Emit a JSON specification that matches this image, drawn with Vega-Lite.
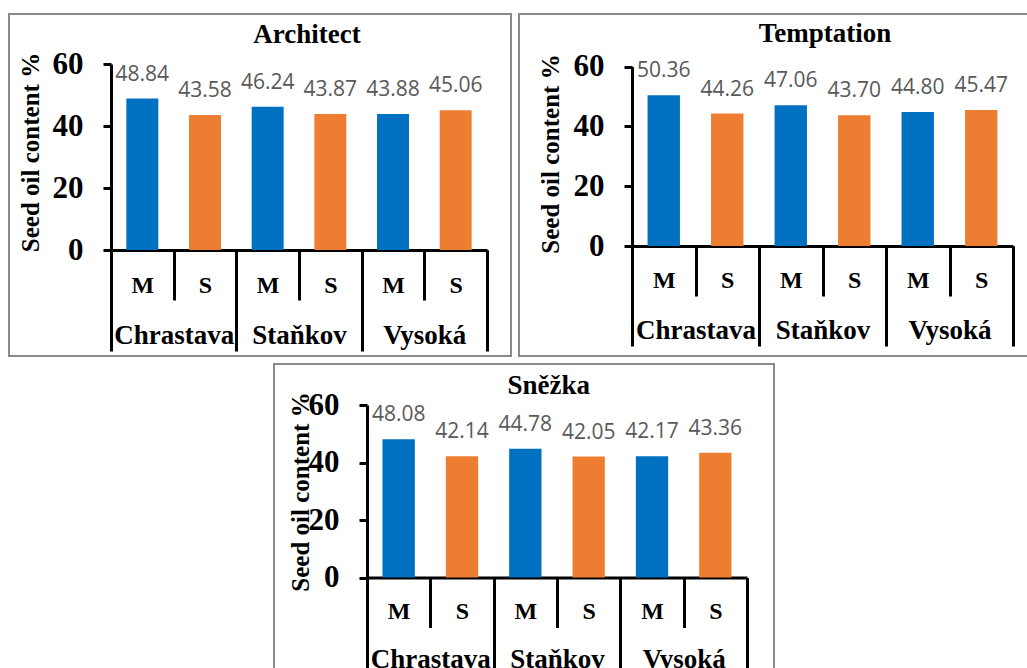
{
  "$schema": "https://vega.github.io/schema/vega-lite/v6.json",
  "padding": {"left": 8, "top": 13, "right": 0, "bottom": 0},
  "autosize": {"type": "pad"},
  "background": "white",
  "spacing": 6,
  "config": {
    "view": {"stroke": "#8a8a8a", "strokeWidth": 2},
    "axis": {"grid": false},
    "font": "Liberation Serif"
  },
  "vconcat": [
    {
      "spacing": 6,
      "hconcat": [
        {
          "width": 502,
          "height": 342,
          "title": {"text": "Architect", "dx": 47, "offset": -56, "baseline": "alphabetic", "fontSize": 27, "font": "Liberation Serif", "fontWeight": "bold", "color": "black"},
          "data": {"values": [
            {"location": "Chrastava", "treatment": "M", "group": "Chrastava-M", "oil": 48.84},
            {"location": "Chrastava", "treatment": "S", "group": "Chrastava-S", "oil": 43.58},
            {"location": "Staňkov", "treatment": "M", "group": "Staňkov-M", "oil": 46.24},
            {"location": "Staňkov", "treatment": "S", "group": "Staňkov-S", "oil": 43.87},
            {"location": "Vysoká", "treatment": "M", "group": "Vysoká-M", "oil": 43.88},
            {"location": "Vysoká", "treatment": "S", "group": "Vysoká-S", "oil": 45.06}
          ]},
          "layer": [
            {
              "mark": {"type": "bar", "width": {"band": 0.51}},
              "encoding": {
                "x": {"field": "group", "type": "nominal", "sort": null,
                  "scale": {"range": [102, 478], "paddingInner": 0, "paddingOuter": 0},
                  "axis": {"orient": "bottom", "offset": -106, "title": null, "domainColor": "black", "domainWidth": 3, "tickBand": "extent", "tickColor": "black", "tickWidth": 3, "tickSize": 50, "labelExpr": "split(datum.label,'-')[1]", "labelAngle": 0, "labelFont": "Liberation Serif", "labelFontWeight": "bold", "labelFontSize": 24, "labelColor": "black", "labelBaseline": "middle", "labelPadding": -15, "labelOverlap": false, "labelBound": false, "labelFlush": false}},
                "y": {"field": "oil", "type": "quantitative",
                  "scale": {"domain": [0, 60], "range": [236, 50], "nice": false},
                  "axis": {"orient": "left", "offset": -102, "values": [0, 20, 40, 60], "domainColor": "black", "domainWidth": 3, "tickColor": "black", "tickWidth": 3, "tickSize": 8, "labelFont": "Liberation Serif", "labelFontWeight": "bold", "labelFontSize": 31, "labelColor": "black", "labelPadding": 20, "title": "Seed oil content %", "titleFont": "Liberation Serif", "titleFontWeight": "bold", "titleFontSize": 25, "titleColor": "black", "titleX": -81, "titleY": 138, "titleAngle": -90, "titleAlign": "center", "titleBaseline": "middle"}},
                "color": {"field": "treatment", "type": "nominal", "scale": {"domain": ["M", "S"], "range": ["#0070C0", "#ED7D31"]}, "legend": null}
              }
            },
            {
              "mark": {"type": "text", "font": "Open Sans", "fontSize": 21, "color": "#595959", "baseline": "alphabetic", "dy": -18},
              "encoding": {
                "x": {"field": "group", "type": "nominal", "sort": null, "scale": {"range": [102, 478], "paddingInner": 0, "paddingOuter": 0}, "axis": null},
                "y": {"field": "oil", "type": "quantitative"},
                "text": {"field": "oil", "type": "quantitative", "format": ".2f"}
              }
            },
            {
              "mark": {"type": "point", "opacity": 0},
              "encoding": {
                "x": {"field": "location", "type": "nominal", "sort": null,
                  "scale": {"range": [102, 478], "paddingInner": 0, "paddingOuter": 0},
                  "axis": {"orient": "bottom", "offset": -106, "title": null, "domain": false, "tickBand": "extent", "tickColor": "black", "tickWidth": 3, "tickSize": 101, "labelAngle": 0, "labelFont": "Liberation Serif", "labelFontWeight": "bold", "labelFontSize": 27, "labelColor": "black", "labelBaseline": "middle", "labelPadding": -16, "labelOverlap": false, "labelBound": false, "labelFlush": false}}
              }
            }
          ],
          "resolve": {"scale": {"x": "independent"}}
        },
        {
          "width": 513,
          "height": 342,
          "title": {"text": "Temptation", "dx": 49.5, "offset": -55, "baseline": "alphabetic", "fontSize": 27, "font": "Liberation Serif", "fontWeight": "bold", "color": "black"},
          "data": {"values": [
            {"location": "Chrastava", "treatment": "M", "group": "Chrastava-M", "oil": 50.36},
            {"location": "Chrastava", "treatment": "S", "group": "Chrastava-S", "oil": 44.26},
            {"location": "Staňkov", "treatment": "M", "group": "Staňkov-M", "oil": 47.06},
            {"location": "Staňkov", "treatment": "S", "group": "Staňkov-S", "oil": 43.70},
            {"location": "Vysoká", "treatment": "M", "group": "Vysoká-M", "oil": 44.80},
            {"location": "Vysoká", "treatment": "S", "group": "Vysoká-S", "oil": 45.47}
          ]},
          "layer": [
            {
              "mark": {"type": "bar", "width": {"band": 0.51}},
              "encoding": {
                "x": {"field": "group", "type": "nominal", "sort": null,
                  "scale": {"range": [113, 494], "paddingInner": 0, "paddingOuter": 0},
                  "axis": {"orient": "bottom", "offset": -110, "title": null, "domainColor": "black", "domainWidth": 3, "tickBand": "extent", "tickColor": "black", "tickWidth": 3, "tickSize": 50, "labelExpr": "split(datum.label,'-')[1]", "labelAngle": 0, "labelFont": "Liberation Serif", "labelFontWeight": "bold", "labelFontSize": 24, "labelColor": "black", "labelBaseline": "middle", "labelPadding": -16, "labelOverlap": false, "labelBound": false, "labelFlush": false}},
                "y": {"field": "oil", "type": "quantitative",
                  "scale": {"domain": [0, 60], "range": [232, 52.5], "nice": false},
                  "axis": {"orient": "left", "offset": -113, "values": [0, 20, 40, 60], "domainColor": "black", "domainWidth": 3, "tickColor": "black", "tickWidth": 3, "tickSize": 8, "labelFont": "Liberation Serif", "labelFontWeight": "bold", "labelFontSize": 31, "labelColor": "black", "labelPadding": 20, "title": "Seed oil content %", "titleFont": "Liberation Serif", "titleFontWeight": "bold", "titleFontSize": 25, "titleColor": "black", "titleX": -82, "titleY": 139.5, "titleAngle": -90, "titleAlign": "center", "titleBaseline": "middle"}},
                "color": {"field": "treatment", "type": "nominal", "scale": {"domain": ["M", "S"], "range": ["#0070C0", "#ED7D31"]}, "legend": null}
              }
            },
            {
              "mark": {"type": "text", "font": "Open Sans", "fontSize": 21, "color": "#595959", "baseline": "alphabetic", "dy": -18},
              "encoding": {
                "x": {"field": "group", "type": "nominal", "sort": null, "scale": {"range": [113, 494], "paddingInner": 0, "paddingOuter": 0}, "axis": null},
                "y": {"field": "oil", "type": "quantitative"},
                "text": {"field": "oil", "type": "quantitative", "format": ".2f"}
              }
            },
            {
              "mark": {"type": "point", "opacity": 0},
              "encoding": {
                "x": {"field": "location", "type": "nominal", "sort": null,
                  "scale": {"range": [113, 494], "paddingInner": 0, "paddingOuter": 0},
                  "axis": {"orient": "bottom", "offset": -110, "title": null, "domain": false, "tickBand": "extent", "tickColor": "black", "tickWidth": 3, "tickSize": 100, "labelAngle": 0, "labelFont": "Liberation Serif", "labelFontWeight": "bold", "labelFontSize": 27, "labelColor": "black", "labelBaseline": "middle", "labelPadding": -16, "labelOverlap": false, "labelBound": false, "labelFlush": false}}
              }
            }
          ],
          "resolve": {"scale": {"x": "independent"}}
        }
      ]
    },
    {
      "spacing": 0,
      "hconcat": [
        {
          "width": 264,
          "height": 10,
          "view": {"stroke": null},
          "data": {"values": [{}]},
          "mark": {"type": "text"},
          "encoding": {"text": {"value": ""}}
        },
        {
          "width": 500,
          "height": 309,
          "title": {"text": "Sněžka", "dx": 24.7, "offset": -57, "baseline": "alphabetic", "fontSize": 27, "font": "Liberation Serif", "fontWeight": "bold", "color": "black"},
          "data": {"values": [
            {"location": "Chrastava", "treatment": "M", "group": "Chrastava-M", "oil": 48.08},
            {"location": "Chrastava", "treatment": "S", "group": "Chrastava-S", "oil": 42.14},
            {"location": "Staňkov", "treatment": "M", "group": "Staňkov-M", "oil": 44.78},
            {"location": "Staňkov", "treatment": "S", "group": "Staňkov-S", "oil": 42.05},
            {"location": "Vysoká", "treatment": "M", "group": "Vysoká-M", "oil": 42.17},
            {"location": "Vysoká", "treatment": "S", "group": "Vysoká-S", "oil": 43.36}
          ]},
          "layer": [
            {
              "mark": {"type": "bar", "width": {"band": 0.51}},
              "encoding": {
                "x": {"field": "group", "type": "nominal", "sort": null,
                  "scale": {"range": [93, 473], "paddingInner": 0, "paddingOuter": 0},
                  "axis": {"orient": "bottom", "offset": -95.5, "title": null, "domainColor": "black", "domainWidth": 3, "tickBand": "extent", "tickColor": "black", "tickWidth": 3, "tickSize": 50, "labelExpr": "split(datum.label,'-')[1]", "labelAngle": 0, "labelFont": "Liberation Serif", "labelFontWeight": "bold", "labelFontSize": 24, "labelColor": "black", "labelBaseline": "middle", "labelPadding": -16, "labelOverlap": false, "labelBound": false, "labelFlush": false}},
                "y": {"field": "oil", "type": "quantitative",
                  "scale": {"domain": [0, 60], "range": [213.5, 41], "nice": false},
                  "axis": {"orient": "left", "offset": -93, "values": [0, 20, 40, 60], "domainColor": "black", "domainWidth": 3, "tickColor": "black", "tickWidth": 3, "tickSize": 8, "labelFont": "Liberation Serif", "labelFontWeight": "bold", "labelFontSize": 31, "labelColor": "black", "labelPadding": 20, "title": "Seed oil content %", "titleFont": "Liberation Serif", "titleFontWeight": "bold", "titleFontSize": 25, "titleColor": "black", "titleX": -67, "titleY": 127.5, "titleAngle": -90, "titleAlign": "center", "titleBaseline": "middle"}},
                "color": {"field": "treatment", "type": "nominal", "scale": {"domain": ["M", "S"], "range": ["#0070C0", "#ED7D31"]}, "legend": null}
              }
            },
            {
              "mark": {"type": "text", "font": "Open Sans", "fontSize": 21, "color": "#595959", "baseline": "alphabetic", "dy": -18},
              "encoding": {
                "x": {"field": "group", "type": "nominal", "sort": null, "scale": {"range": [93, 473], "paddingInner": 0, "paddingOuter": 0}, "axis": null},
                "y": {"field": "oil", "type": "quantitative"},
                "text": {"field": "oil", "type": "quantitative", "format": ".2f"}
              }
            },
            {
              "mark": {"type": "point", "opacity": 0},
              "encoding": {
                "x": {"field": "location", "type": "nominal", "sort": null,
                  "scale": {"range": [93, 473], "paddingInner": 0, "paddingOuter": 0},
                  "axis": {"orient": "bottom", "offset": -95.5, "title": null, "domain": false, "tickBand": "extent", "tickColor": "black", "tickWidth": 3, "tickSize": 101, "labelAngle": 0, "labelFont": "Liberation Serif", "labelFontWeight": "bold", "labelFontSize": 27, "labelColor": "black", "labelBaseline": "middle", "labelPadding": -19, "labelOverlap": false, "labelBound": false, "labelFlush": false}}
              }
            }
          ],
          "resolve": {"scale": {"x": "independent"}}
        }
      ]
    }
  ]
}
